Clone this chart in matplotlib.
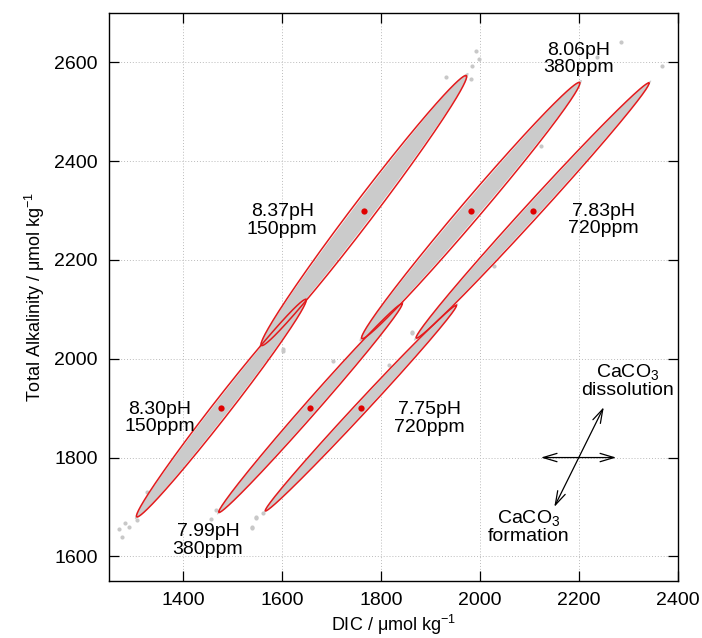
import numpy as np
import matplotlib
matplotlib.use("Agg")
import matplotlib.pyplot as plt

plt.rcParams["font.family"] = ["Liberation Sans", "DejaVu Sans"]
plt.rcParams["mathtext.fontset"] = "custom"
plt.rcParams["mathtext.rm"] = "Liberation Sans"
plt.rcParams["mathtext.it"] = "Liberation Sans"

# ellipse centres (DIC, TA), half major axis vector, half minor axis
centre_dic = [1477, 1765, 1657, 1981, 1759, 2106]
centre_ta = [1900, 2300, 1900, 2300, 1900, 2300]
major_dx = [171, 207, 185, 220, 193, 235]
major_dy = [220, 273, 211, 259, 208, 258]
minor_half = [17.5, 22, 13.5, 20, 12, 15.5]
cloud_half = [15, 19, 11.5, 17, 10, 13]

labels = ["8.30pH\n150ppm", "8.37pH\n150ppm", "7.99pH\n380ppm",
          "8.06pH\n380ppm", "7.75pH\n720ppm", "7.83pH\n720ppm"]
label_dic = [1352, 1600, 1450, 2199, 1898, 2249]
label_ta = [1880, 2280, 1632, 2607, 1879, 2281]

# scattered points outside the dense bands
stray_dic = [1276, 1282, 1306, 1326, 1467, 1457, 1538, 1548, 1561, 1538, 1548,
             1991, 1998, 1984, 1981, 1931, 2237, 2284, 2368, 2123, 2028, 1863,
             1816, 1601, 1703, 1863, 1601, 1270, 1290]
stray_ta = [1640, 1668, 1674, 1731, 1694, 1675, 1657, 1680, 1688, 1660, 1677,
            2624, 2607, 2593, 2566, 2571, 2610, 2641, 2593, 2431, 2188, 2052,
            1988, 2015, 1995, 2054, 2019, 1655, 1660]


def ellipse_xy(cx, cy, dx, dy, b, n=400):
    t = np.linspace(0, 2 * np.pi, n)
    length = np.hypot(dx, dy)
    px, py = -dy / length, dx / length
    x = cx + np.cos(t) * dx + np.sin(t) * b * px
    y = cy + np.cos(t) * dy + np.sin(t) * b * py
    return x, y


fig = plt.figure(figsize=(7.02, 6.38), dpi=100)
ax = fig.add_axes([0.1553, 0.0893, 0.8105, 0.8903])

ax.scatter(stray_dic, stray_ta, s=9, color="#c8c8c8", linewidths=0, zorder=2)

for i in range(len(centre_dic)):
    gx, gy = ellipse_xy(centre_dic[i], centre_ta[i], major_dx[i] * 1.02,
                        major_dy[i] * 1.02, cloud_half[i])
    ax.fill(gx, gy, color="#cbcbcb", lw=0, zorder=2)
for i in range(len(centre_dic)):
    ex, ey = ellipse_xy(centre_dic[i], centre_ta[i], major_dx[i],
                        major_dy[i], minor_half[i])
    ax.plot(ex, ey, color="#e31a1c", lw=1.1, zorder=3)
    ax.text(label_dic[i], label_ta[i], labels[i], ha="center", va="center",
            fontsize=14, linespacing=1.05, zorder=4)

ax.plot(centre_dic, centre_ta, "o", color="#e00000", ms=4.5, mec="none",
        zorder=5)

# CaCO3 arrows
arrow = dict(arrowstyle="<->,head_length=1.0,head_width=0.3", color="black",
             lw=0.9, shrinkA=0, shrinkB=0)
ax.annotate("", xy=(2275, 1800), xytext=(2123, 1800), arrowprops=arrow)
ax.annotate("", xy=(2250, 1902), xytext=(2150, 1700), arrowprops=arrow)
ax.text(2298, 1955, "CaCO$_3$\ndissolution", ha="center", va="center",
        fontsize=14, linespacing=1.0)
ax.text(2098, 1661, "CaCO$_3$\nformation", ha="center", va="center",
        fontsize=14, linespacing=1.0)

ax.set_xlim(1250, 2400)
ax.set_ylim(1550, 2700)
ax.set_xticks([1400, 1600, 1800, 2000, 2200, 2400])
ax.set_yticks([1600, 1800, 2000, 2200, 2400, 2600])
ax.tick_params(direction="in", length=7, width=0.9, top=True, right=True,
               labelsize=14, pad=8)
ax.grid(True, color="#bbbbbb", linestyle=(0, (1, 2)), lw=0.7)
ax.set_axisbelow(True)
for sp in ax.spines.values():
    sp.set_linewidth(1.0)

ax.set_xlabel("DIC / μmol kg$^{-1}$", fontsize=13, labelpad=3)
ax.set_ylabel("Total Alkalinity / μmol kg$^{-1}$", fontsize=13, labelpad=5)

fig.savefig("out.png", dpi=100)
